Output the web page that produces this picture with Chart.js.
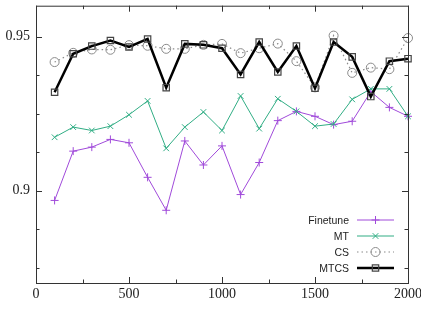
<!DOCTYPE html>
<html>
<head>
<meta charset="utf-8">
<script src="https://cdn.jsdelivr.net/npm/chart.js@4/dist/chart.umd.min.js"></script>
<style>
  html, body { margin: 0; padding: 0; background: #fff; }
  #wrap { width: 421px; height: 314px; }
</style>
</head>
<body>
<div id="wrap"><canvas id="chart" width="421" height="314"></canvas></div>
<script>
// Data
const steps = [100, 200, 300, 400, 500, 600, 700, 800, 900, 1000,
               1100, 1200, 1300, 1400, 1500, 1600, 1700, 1800, 1900, 2000];
const finetune = [0.8968, 0.9128, 0.9141, 0.9166, 0.9155, 0.9043, 0.8936, 0.9161, 0.9083, 0.9145,
                  0.8987, 0.9091, 0.9227, 0.9257, 0.9241, 0.9214, 0.9225, 0.9321, 0.9270, 0.9241];
const mt = [0.9173, 0.9206, 0.9195, 0.9209, 0.9246, 0.9291, 0.9137, 0.9206, 0.9255, 0.9195,
            0.9307, 0.9201, 0.9298, 0.9257, 0.9209, 0.9216, 0.9296, 0.9330, 0.9330, 0.9241];
const cs = [0.9417, 0.9447, 0.9458, 0.9457, 0.9472, 0.9470, 0.9460, 0.9460, 0.9473, 0.9476,
            0.9446, 0.9462, 0.9477, 0.9420, 0.9335, 0.9503, 0.9382, 0.9399, 0.9394, 0.9495];
const mtcs = [0.9319, 0.9444, 0.9469, 0.9487, 0.9466, 0.9492, 0.9334, 0.9476, 0.9473, 0.9462,
              0.9377, 0.9482, 0.9385, 0.9469, 0.9332, 0.9482, 0.9434, 0.9305, 0.9420, 0.9428];

const xTicks = [0, 500, 1000, 1500, 2000];
const xMinorStep = 250;
const yTicks = [0.9, 0.95];
const yMinorStep = 0.0125;

const seriesNames = ['Finetune', 'MT', 'CS', 'MTCS'];

const toPoints = arr => steps.map((x, i) => ({ x: x, y: arr[i] }));

const PURPLE = '#a04ada';
const GREEN = '#30ad84';
const GREY = '#8a8a8a';
const AXIS = '#333333';

const datasets = [
    {
        label: seriesNames[0], data: toPoints(finetune),
        borderColor: PURPLE, borderWidth: 1,
        pointStyle: 'cross', pointRadius: 4, pointBorderColor: PURPLE, pointBorderWidth: 1,
        order: 4
    },
    {
        label: seriesNames[1], data: toPoints(mt),
        borderColor: GREEN, borderWidth: 1,
        pointStyle: 'crossRot', pointRadius: 4, pointBorderColor: GREEN, pointBorderWidth: 1,
        order: 3
    },
    {
        label: seriesNames[2], data: toPoints(cs),
        borderColor: GREY, borderWidth: 1.2, borderDash: [1.5, 3],
        pointStyle: 'circle', pointRadius: 4.5, pointBorderColor: GREY,
        pointBackgroundColor: 'rgba(0,0,0,0)', pointBorderWidth: 1,
        order: 2
    },
    {
        label: seriesNames[3], data: toPoints(mtcs),
        borderColor: '#000', borderWidth: 2.5,
        pointStyle: 'rect', pointRadius: 4.5, pointBorderColor: '#444',
        pointBackgroundColor: 'rgba(0,0,0,0)', pointBorderWidth: 1.2,
        order: 1
    }
];
datasets.forEach(ds => { ds.clip = false; });

// gnuplot-like frame with inward ticks on all sides
const framePlugin = {
    id: 'frame',
    afterDatasetsDraw(chart) {
        const ctx = chart.ctx;
        const a = chart.chartArea;
        const xs = chart.scales.x, ys = chart.scales.y;
        ctx.save();
        ctx.strokeStyle = AXIS;
        ctx.lineWidth = 1;
        ctx.strokeRect(a.left + 0.5, a.top + 0.5, a.right - a.left, a.bottom - a.top);
        ctx.beginPath();
        for (let v = xs.min; v <= xs.max + 1e-9; v += xMinorStep) {
            const px = Math.round(xs.getPixelForValue(v)) + 0.5;
            const len = xTicks.includes(v) ? 6 : 3.5;
            ctx.moveTo(px, a.bottom); ctx.lineTo(px, a.bottom - len);
            ctx.moveTo(px, a.top); ctx.lineTo(px, a.top + len);
        }
        for (let v = 0.875; v <= ys.max + 1e-9; v += yMinorStep) {
            const py = Math.round(ys.getPixelForValue(v)) + 0.5;
            const major = yTicks.some(t => Math.abs(t - v) < 1e-6);
            const len = major ? 6 : 3.5;
            ctx.moveTo(a.left, py); ctx.lineTo(a.left + len, py);
            ctx.moveTo(a.right, py); ctx.lineTo(a.right - len, py);
        }
        ctx.stroke();
        ctx.restore();
    }
};

// legend in the lower right, text before sample (gnuplot style)
const keyPlugin = {
    id: 'key',
    afterDatasetsDraw(chart) {
        const ctx = chart.ctx;
        const a = chart.chartArea;
        const sampleR = a.right - 14;
        const sampleL = sampleR - 37;
        const textR = sampleL - 8;
        ctx.save();
        ctx.font = '10.5px "Liberation Sans", Arial, sans-serif';
        ctx.textAlign = 'right';
        ctx.textBaseline = 'middle';
        chart.data.datasets.forEach((ds, i) => {
            const y = a.bottom - 63 + 16 * i;
            ctx.fillStyle = '#222';
            ctx.fillText(ds.label, textR, y + 1);
            ctx.strokeStyle = ds.borderColor;
            ctx.lineWidth = ds.borderWidth;
            ctx.setLineDash(ds.borderDash || []);
            ctx.beginPath();
            ctx.moveTo(sampleL, y); ctx.lineTo(sampleR, y);
            ctx.stroke();
            ctx.setLineDash([]);
            ctx.strokeStyle = ds.pointBorderColor;
            ctx.fillStyle = 'rgba(0,0,0,0)';
            ctx.lineWidth = ds.pointBorderWidth;
            Chart.helpers.drawPoint(ctx, {
                pointStyle: ds.pointStyle, radius: ds.pointRadius, rotation: 0,
                borderWidth: ds.pointBorderWidth
            }, (sampleL + sampleR) / 2, y);
        });
        ctx.restore();
    }
};

new Chart(document.getElementById('chart'), {
    type: 'line',
    data: { datasets: datasets },
    options: {
        responsive: false,
        animation: false,
        layout: { padding: { top: 3, right: 13, left: 0, bottom: 0 } },
        plugins: { legend: { display: false }, tooltip: { enabled: false } },
        scales: {
            x: {
                type: 'linear', min: 0, max: 2000,
                afterBuildTicks: s => { s.ticks = xTicks.map(v => ({ value: v })); },
                ticks: {
                    autoSkip: false, maxRotation: 0, padding: 3, color: '#222',
                    callback: v => String(v),
                    font: { family: '"Liberation Serif", "Times New Roman", serif', size: 14 }
                },
                grid: { display: false, drawTicks: false },
                border: { display: false },
                afterFit: s => { s.height = 31; s.paddingLeft = 0; s.paddingRight = 0; }
            },
            y: {
                type: 'linear', min: 0.87, max: 0.96,
                afterBuildTicks: s => { s.ticks = yTicks.map(v => ({ value: v })); },
                ticks: {
                    autoSkip: false, padding: 6, color: '#222',
                    callback: v => String(+v.toFixed(4)),
                    font: { family: '"Liberation Serif", "Times New Roman", serif', size: 14 }
                },
                grid: { display: false, drawTicks: false },
                border: { display: false },
                afterFit: s => { s.width = 36; s.paddingTop = 0; s.paddingBottom = 0; }
            }
        }
    },
    plugins: [framePlugin, keyPlugin]
});
</script>
</body>
</html>
